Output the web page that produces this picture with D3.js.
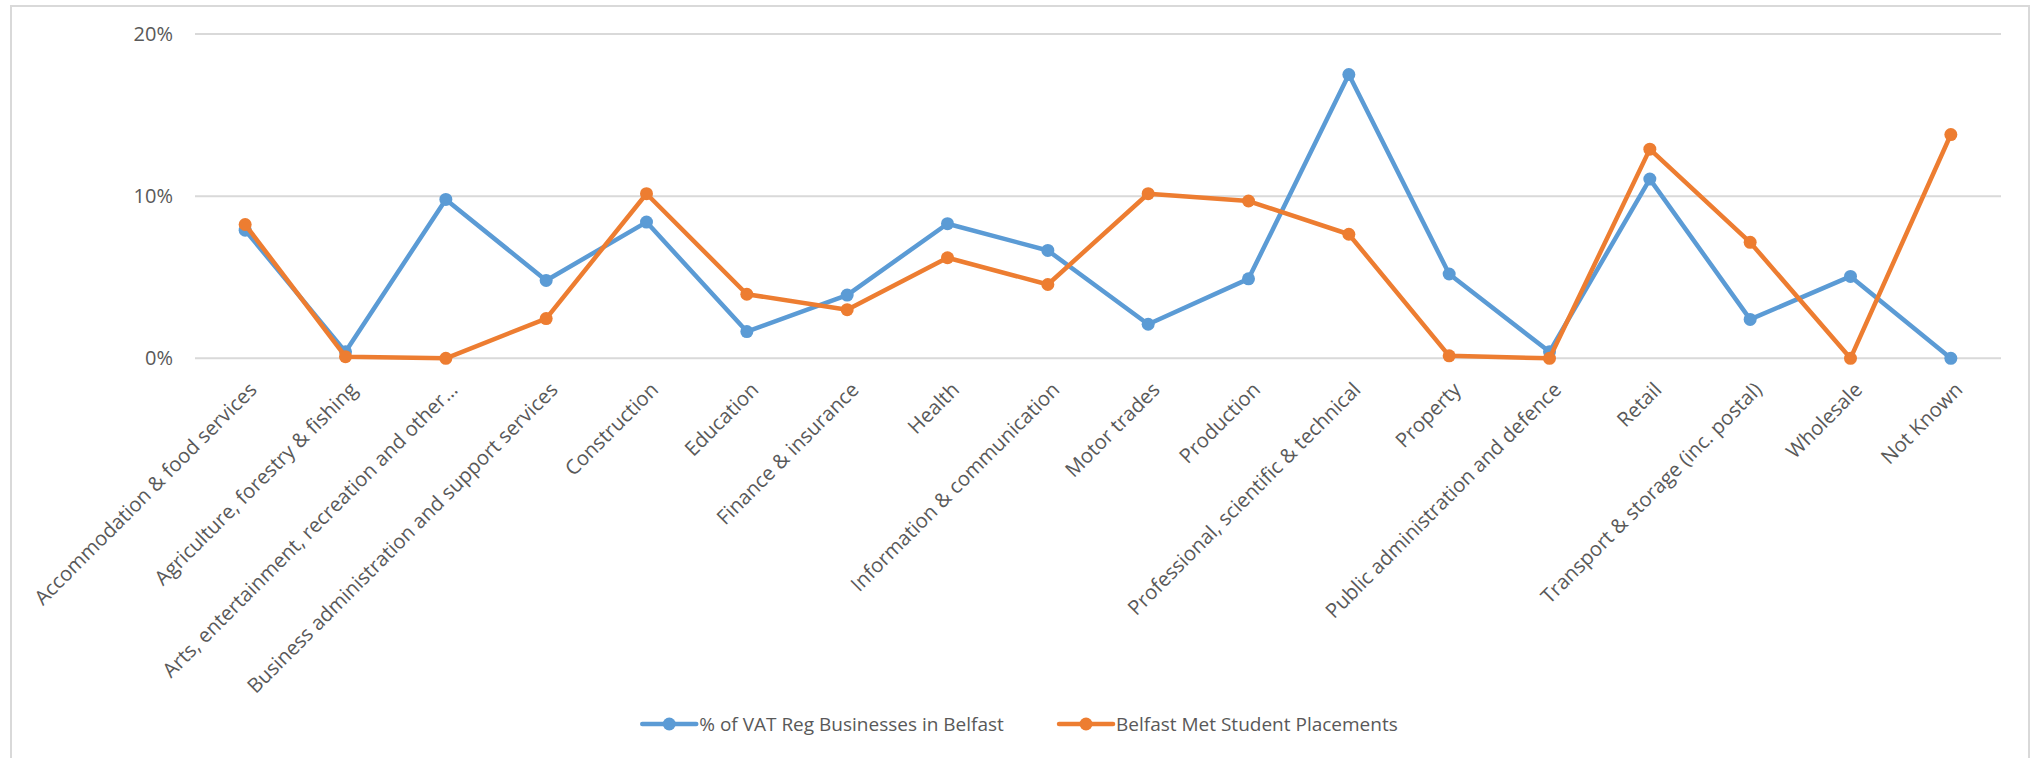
<!DOCTYPE html>
<html>
<head>
<meta charset="utf-8">
<script src="https://cdn.jsdelivr.net/npm/d3@7"></script>
<style>
  html, body { margin: 0; padding: 0; background: #fff; }
  svg { display: block; font-family: "Open Sans", sans-serif; }
</style>
</head>
<body>
<svg id="chart" width="2034" height="758"></svg>
<script>
// categories on the x axis
const categories = [
  "Accommodation & food services",
  "Agriculture, forestry & fishing",
  "Arts, entertainment, recreation and other…",
  "Business administration and support services",
  "Construction",
  "Education",
  "Finance & insurance",
  "Health",
  "Information & communication",
  "Motor trades",
  "Production",
  "Professional, scientific & technical",
  "Property",
  "Public administration and defence",
  "Retail",
  "Transport & storage (inc. postal)",
  "Wholesale",
  "Not Known"
];

// % of VAT registered businesses in Belfast
const vatBusinesses = [7.9, 0.4, 9.8, 4.8, 8.4, 1.65, 3.9, 8.3, 6.65, 2.1, 4.9, 17.5, 5.2, 0.4, 11.05, 2.4, 5.05, 0.0];
// Belfast Met student placements
const placements = [8.25, 0.1, 0.0, 2.45, 10.15, 3.95, 3.0, 6.2, 4.55, 10.15, 9.7, 7.65, 0.15, 0.0, 12.9, 7.15, 0.0, 13.8];

const yTicks = [0, 10, 20];

const series = [
  { name: "% of VAT Reg Businesses in Belfast", values: vatBusinesses, color: "#5B9BD5" },
  { name: "Belfast Met Student Placements", values: placements, color: "#ED7D31" }
];

const svg = d3.select("#chart");
const TEXT = "#595959";
const GRID = "#d9d9d9";

// chart frame
svg.append("rect")
  .attr("x", 11).attr("y", 6)
  .attr("width", 2018).attr("height", 760)
  .attr("fill", "#fff").attr("stroke", GRID).attr("stroke-width", 2);

const x = d3.scaleBand().domain(categories).range([195, 2001]).padding(0);
const y = d3.scaleLinear().domain([0, 20]).range([358.3, 34]);
const cx = d => x(d) + x.bandwidth() / 2;

// gridlines + y labels
const yAxis = svg.append("g");
yAxis.selectAll("line").data(yTicks).join("line")
  .attr("x1", 195).attr("x2", 2001)
  .attr("y1", d => y(d)).attr("y2", d => y(d))
  .attr("stroke", GRID).attr("stroke-width", 2);
yAxis.selectAll("text").data(yTicks).join("text")
  .attr("x", 173).attr("y", d => y(d))
  .attr("dy", "0.35em")
  .attr("text-anchor", "end")
  .attr("fill", TEXT).style("font-size", "20px")
  .text(d => d + "%");

// x labels, rotated -45
svg.append("g").selectAll("text").data(categories).join("text")
  .attr("text-anchor", "end")
  .attr("transform", d => `translate(${cx(d) + 13},391) rotate(-45)`)
  .attr("fill", TEXT).style("font-size", "20.3px")
  .text(d => d);

// lines + markers
const line = d3.line().x((v, i) => cx(categories[i])).y(v => y(v));
series.forEach(s => {
  const g = svg.append("g");
  g.append("path")
    .attr("d", line(s.values))
    .attr("fill", "none")
    .attr("stroke", s.color)
    .attr("stroke-width", 4.5)
    .attr("stroke-linejoin", "round")
    .attr("stroke-linecap", "round");
  g.selectAll("circle").data(s.values).join("circle")
    .attr("cx", (v, i) => cx(categories[i]))
    .attr("cy", v => y(v))
    .attr("r", 6.5)
    .attr("fill", s.color);
});

// legend, centred under the chart
const legend = svg.append("g");
const items = legend.selectAll("g").data(series).join("g");
items.append("line")
  .attr("x1", 0).attr("x2", 54).attr("y1", 0).attr("y2", 0)
  .attr("stroke", d => d.color).attr("stroke-width", 4.5)
  .attr("stroke-linecap", "round");
items.append("circle")
  .attr("cx", 27).attr("cy", 0).attr("r", 6.5)
  .attr("fill", d => d.color);
items.append("text")
  .attr("x", 57).attr("dy", "0.35em")
  .attr("fill", TEXT).style("font-size", "19px")
  .text(d => d.name);

let widths = [];
items.each(function () { widths.push(this.getBBox().width); });
const gap = 55;
const total = d3.sum(widths) + gap * (widths.length - 1);
let pos = 1020 - total / 2;
items.attr("transform", (d, i) => {
  const t = `translate(${pos},724)`;
  pos += widths[i] + gap;
  return t;
});
</script>
</body>
</html>
